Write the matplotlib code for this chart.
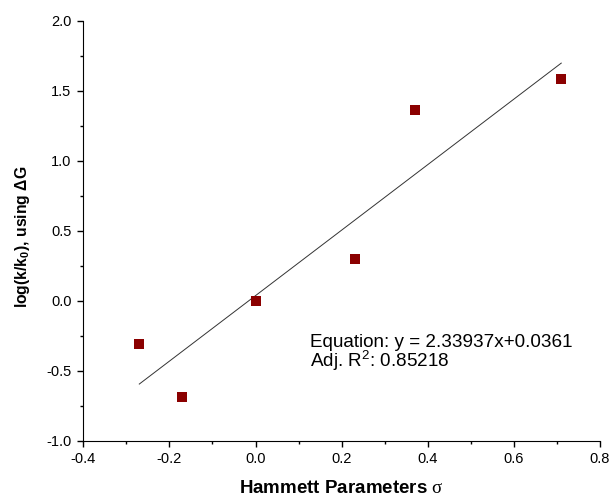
import numpy as np
import matplotlib
matplotlib.use('Agg')
import matplotlib.pyplot as plt
from matplotlib.ticker import MultipleLocator

plt.rcParams['font.family'] = ['Liberation Sans', 'DejaVu Sans']
plt.rcParams['mathtext.fontset'] = 'custom'
plt.rcParams['mathtext.rm'] = 'Liberation Serif'

sigma = [-0.27, -0.17, 0.0, 0.23, 0.37, 0.71]
logk = [-0.31, -0.69, 0.0, 0.30, 1.36, 1.58]
slope = 2.33937
intercept = 0.0361

fig = plt.figure(figsize=(6.13, 5.01), dpi=100)
ax = fig.add_axes([0.1359, 0.1204, 0.8429, 0.8383])

xfit = np.array([min(sigma), max(sigma)])
ax.plot(xfit, slope * xfit + intercept, color='#333333', lw=0.7)
ax.plot(sigma, logk, 's', color='#8b0000', markersize=6.5, markeredgewidth=0)

ax.set_xlim(-0.4, 0.8)
ax.set_ylim(-1.0, 2.0)
ax.xaxis.set_major_locator(MultipleLocator(0.2))
ax.xaxis.set_minor_locator(MultipleLocator(0.1))
ax.yaxis.set_major_locator(MultipleLocator(0.5))
ax.yaxis.set_minor_locator(MultipleLocator(0.25))
ax.xaxis.set_major_formatter(plt.FormatStrFormatter('%.1f'))
ax.yaxis.set_major_formatter(plt.FormatStrFormatter('%.1f'))
ax.spines['top'].set_visible(False)
ax.spines['right'].set_visible(False)
ax.tick_params(which='major', direction='out', length=4.5, width=1, labelsize=10.5, pad=4)
ax.tick_params(which='minor', direction='out', length=2.5, width=1)

ax.set_xlabel(r'Hammett Parameters $\mathrm{\sigma}$', fontsize=13.5, fontweight='bold')
ax.xaxis.set_label_coords(0.5, -0.094)
ax.set_ylabel(r'log(k/k$_\mathregular{0}$), using ΔG', fontsize=11.3, fontweight='bold')
ax.yaxis.set_label_coords(-0.099, 0.485)

ax.text(0.127, -0.328, 'Equation: y = 2.33937x+0.0361', fontsize=13.6, va='baseline')
ax.text(0.127, -0.475, r'Adj. R$^\mathregular{2}$: 0.85218', fontsize=13.6, va='baseline')

fig.savefig('out.png', dpi=100)
